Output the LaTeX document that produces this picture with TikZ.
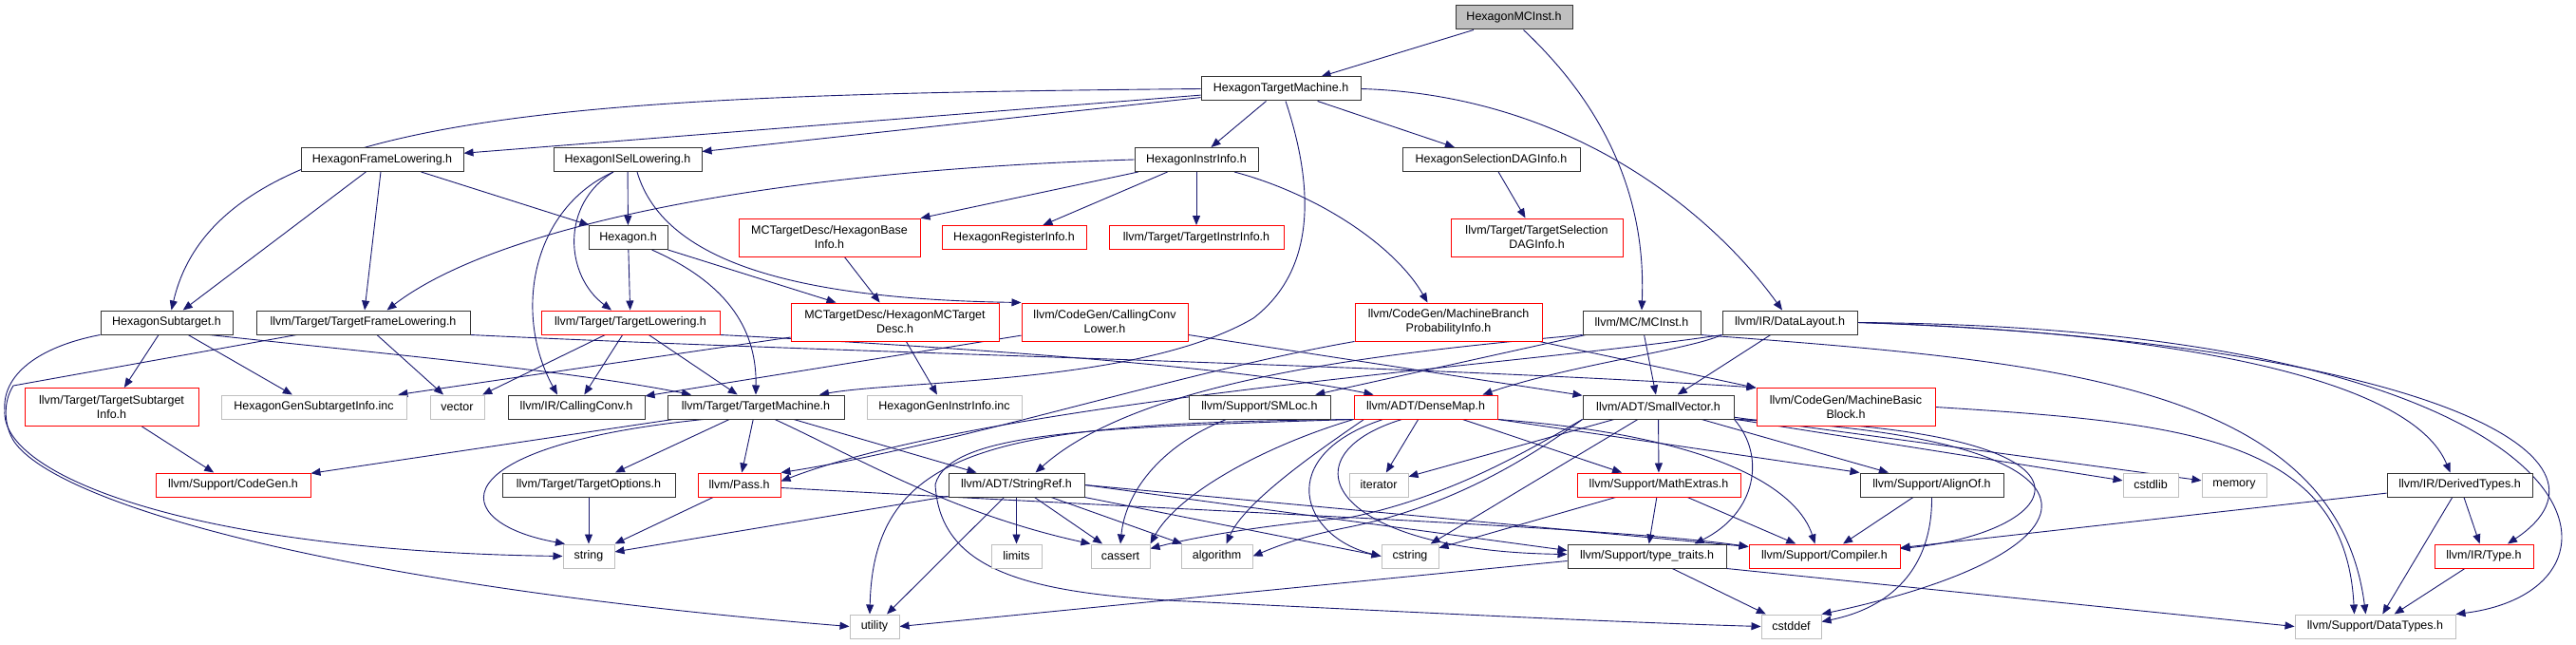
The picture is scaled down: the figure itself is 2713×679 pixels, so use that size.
\documentclass[tikz,border=0pt]{standalone}
\usepackage{fontspec}
\setmainfont{Liberation Sans}
\usetikzlibrary{arrows.meta,backgrounds}
\definecolor{edgeblue}{HTML}{191970}
\definecolor{extgray}{HTML}{BFBFBF}

\tikzset{
  hdr/.style={draw=black!80, fill=white, line width=1pt, minimum height=25pt,
    inner sep=1pt, align=center, font=\fontsize{12.5}{15}\selectfont},
  hdrtrunc/.style={hdr, draw=red},
  hdrext/.style={hdr, draw=extgray},
  hdrroot/.style={hdr, fill=extgray},
  twoline/.style={minimum height=40pt},
  incl/.style={-{Triangle[length=10pt,width=8pt]}, draw=edgeblue, line width=0.9pt},
}

\begin{document}
\begin{tikzpicture}[x=1pt, y=-1pt, line cap=round]
  \useasboundingbox (0,0) rectangle (2713,679);

  % rank 0 and 1
  \node[hdrroot, minimum width=123] (root) at (1594.5,18.5) {HexagonMCInst.h};
  \node[hdr, minimum width=168] (tm) at (1349,93.5) {HexagonTargetMachine.h};
  % rank 2
  \node[hdr, minimum width=171] (hfl) at (402.5,168) {HexagonFrameLowering.h};
  \node[hdr, minimum width=156] (hisel) at (661,168) {HexagonISelLowering.h};
  \node[hdr, minimum width=130] (hii) at (1260,168) {HexagonInstrInfo.h};
  \node[hdr, minimum width=187] (hsdag) at (1570.5,168) {HexagonSelectionDAGInfo.h};
  % rank 3
  \node[hdr, minimum width=83] (hex) at (661.5,250) {Hexagon.h};
  \node[hdrtrunc, twoline, minimum width=191] (hbase) at (873.5,250) {MCTargetDesc/HexagonBase\\Info.h};
  \node[hdrtrunc, minimum width=152] (hreg) at (1068,250) {HexagonRegisterInfo.h};
  \node[hdrtrunc, minimum width=184] (tii) at (1260,250) {llvm/Target/TargetInstrInfo.h};
  \node[hdrtrunc, twoline, minimum width=181] (tsdag) at (1618.5,250) {llvm/Target/TargetSelection\\DAGInfo.h};
  % rank 4
  \node[hdr, minimum width=139] (hsub) at (175.5,339.5) {HexagonSubtarget.h};
  \node[hdr, minimum width=225] (tfl) at (382.5,339.5) {llvm/Target/TargetFrameLowering.h};
  \node[hdrtrunc, minimum width=188] (tl) at (664,339.5) {llvm/Target/TargetLowering.h};
  \node[hdrtrunc, twoline, minimum width=219] (mcdesc) at (942.5,339) {MCTargetDesc/HexagonMCTarget\\Desc.h};
  \node[hdrtrunc, twoline, minimum width=175] (ccl) at (1163.5,339) {llvm/CodeGen/CallingConv\\Lower.h};
  \node[hdrtrunc, twoline, minimum width=197] (mbpi) at (1525.5,339) {llvm/CodeGen/MachineBranch\\ProbabilityInfo.h};
  \node[hdr, minimum width=124] (mcinst) at (1729,339.5) {llvm/MC/MCInst.h};
  \node[hdr, minimum width=142] (dl) at (1885,339.5) {llvm/IR/DataLayout.h};
  % rank 5
  \node[hdrtrunc, twoline, minimum width=183] (tsub) at (117.5,428.5) {llvm/Target/TargetSubtarget\\Info.h};
  \node[hdrext, minimum width=195] (gensub) at (330.5,428.5) {HexagonGenSubtargetInfo.inc};
  \node[hdrext, minimum width=57] (vector) at (481.5,428.5) {vector};
  \node[hdr, minimum width=144] (cc) at (607,428.5) {llvm/IR/CallingConv.h};
  \node[hdr, minimum width=186] (tmach) at (796,428.5) {llvm/Target/TargetMachine.h};
  \node[hdrext, minimum width=163] (geninstr) at (994.5,428.5) {HexagonGenInstrInfo.inc};
  \node[hdr, minimum width=149] (smloc) at (1326.5,428.5) {llvm/Support/SMLoc.h};
  \node[hdrtrunc, minimum width=151] (dmap) at (1501.5,428.5) {llvm/ADT/DenseMap.h};
  \node[hdr, minimum width=159] (svec) at (1746.5,428.5) {llvm/ADT/SmallVector.h};
  \node[hdrtrunc, twoline, minimum width=188] (mbb) at (1944,428.5) {llvm/CodeGen/MachineBasic\\Block.h};
  % rank 6
  \node[hdrtrunc, minimum width=163] (cgen) at (245.5,510.5) {llvm/Support/CodeGen.h};
  \node[hdr, minimum width=182] (topt) at (620,510.5) {llvm/Target/TargetOptions.h};
  \node[hdrtrunc, minimum width=87] (pass) at (778.5,510.5) {llvm/Pass.h};
  \node[hdr, minimum width=143] (sref) at (1070.5,510.5) {llvm/ADT/StringRef.h};
  \node[hdrext, minimum width=62] (iter) at (1452,510.5) {iterator};
  \node[hdrtrunc, minimum width=172] (mext) at (1747,510.5) {llvm/Support/MathExtras.h};
  \node[hdr, minimum width=151] (align) at (2034.5,510.5) {llvm/Support/AlignOf.h};
  \node[hdrext, minimum width=58] (cstdlib) at (2265,510.5) {cstdlib};
  \node[hdrext, minimum width=68] (memory) at (2353,510.5) {memory};
  \node[hdr, minimum width=153] (dtypes) at (2590.5,510.5) {llvm/IR/DerivedTypes.h};
  % rank 7
  \node[hdrext, minimum width=54] (string) at (620,585.5) {string};
  \node[hdrext, minimum width=53] (limits) at (1070.5,585.5) {limits};
  \node[hdrext, minimum width=62] (cassert) at (1180,585.5) {cassert};
  \node[hdrext, minimum width=75] (algorithm) at (1281.5,585.5) {algorithm};
  \node[hdrext, minimum width=60] (cstring) at (1485,585.5) {cstring};
  \node[hdr, minimum width=167] (ttraits) at (1734.5,585.5) {llvm/Support/type\_traits.h};
  \node[hdrtrunc, minimum width=159] (compiler) at (1921.5,585.5) {llvm/Support/Compiler.h};
  \node[hdrtrunc, minimum width=104] (type) at (2616,585.5) {llvm/IR/Type.h};
  % rank 8
  \node[hdrext, minimum width=52] (utility) at (921,659.5) {utility};
  \node[hdrext, minimum width=63] (cstddef) at (1886.5,659.5) {cstddef};
  \node[hdrext, minimum width=169] (datatypes) at (2501.5,659.5) {llvm/Support/DataTypes.h};

  \begin{scope}[on background layer]
    \fill[white] (0,0) rectangle (2713,679);
    % straight connectors
    \foreach \a/\b in {root/tm, tm/hfl, tm/hisel, tm/hii, tm/hsdag, hfl/hsub, hfl/tfl, hfl/hex,
      hisel/hex, hii/hbase, hii/hreg, hii/tii, hsdag/tsdag, hex/tl, hbase/mcdesc, hsub/tsub,
      hsub/gensub, tfl/vector, tl/vector, tl/cc, tl/tmach, mcdesc/gensub, mcdesc/geninstr,
      ccl/cc, ccl/svec, mbpi/mbb, mcinst/svec, mcinst/smloc, dl/svec, tsub/cgen, tmach/cgen,
      tmach/topt, tmach/pass, topt/string, pass/string, sref/limits, sref/cassert,
      sref/algorithm, sref/utility, sref/string, dmap/iter, dmap/mext, svec/iter, svec/mext,
      svec/align, svec/cstdlib, svec/memory, svec/cstring, mext/ttraits, mext/cstring,
      mext/compiler, align/compiler, ttraits/cstddef, dtypes/type, dtypes/datatypes,
      dtypes/compiler, type/datatypes}
      \draw[incl] (\a) -- (\b);

    % curved connectors
    \draw[incl] ([xshift=10pt]root.south) .. controls (1720,140) and (1732,250) .. (mcinst.north);
    \draw[incl] (tm.west) .. controls (600,100) and (230,115) .. ([xshift=5pt]hsub.north);
    \draw[incl] (tm.east) .. controls (1650,100) and (1800,220) .. ([xshift=-8pt]dl.north);
    \draw[incl] ([xshift=5pt]tm.south) .. controls (1385,200) and (1385,285) .. (1320,335)
      .. controls (1200,405) and (950,400) .. ([xshift=67pt]tmach.north);
    \draw[incl] ([xshift=-15pt]hisel.south) .. controls (590,215) and (595,290) .. ([xshift=-20pt]tl.north);
    \draw[incl] ([xshift=-15pt]hisel.south) .. controls (560,220) and (540,330) .. ([xshift=-20pt]cc.north);
    \draw[incl] ([xshift=10pt]hisel.south) .. controls (700,280) and (850,315) .. (ccl.north west);
    \draw[incl] (hii.west) .. controls (800,180) and (520,240) .. ([xshift=25pt]tfl.north);
    \draw[incl] ([xshift=40pt]hii.south) .. controls (1390,205) and (1470,260) .. ([xshift=-22pt]mbpi.north);
    \draw[incl] (hex.south east) -- ([xshift=-62pt]mcdesc.north);
    \draw[incl] ([xshift=25pt]hex.south) .. controls (770,300) and (797,350) .. (tmach.north);
    \draw[incl] ([xshift=45pt]hsub.south) .. controls (400,372) and (600,390) .. ([xshift=-68pt]tmach.north);
    \draw[incl] (hsub.south west) .. controls (40,365) and (2,395) .. (5,432)
      .. controls (0,500) and (200,580) .. (string.west);
    \draw[incl] ([xshift=-70pt]tfl.south) -- (14,406) .. controls (2,425) and (5,450) .. (15,465)
      .. controls (60,530) and (350,615) .. (utility.west);
    \draw[incl] (tfl.south east) .. controls (900,372) and (1500,385) .. (mbb.north west);
    \draw[incl] (tl.south east) .. controls (1000,365) and (1300,385) .. ([xshift=-55pt]dmap.north);
    \draw[incl] (mbpi.south west) .. controls (1250,390) and (1000,470) .. (pass.north east);
    \draw[incl] (mcinst.south west) .. controls (1450,372) and (1200,400) .. ([xshift=20pt]sref.north);
    \draw[incl] (mcinst.south east) .. controls (2150,380) and (2460,400) .. ([xshift=-10pt]datatypes.north);
    \draw[incl] ([xshift=-35pt]smloc.south) .. controls (1220,470) and (1185,520) .. (cassert.north);
    \draw[incl] (dl.south west) .. controls (1780,368) and (1650,385) .. ([xshift=60pt]dmap.north);
    \draw[incl] (dl.south west) .. controls (1600,385) and (1050,420) .. ([yshift=4pt]pass.east);
    \draw[incl] (dl.east) .. controls (2300,350) and (2540,400) .. ([xshift=-10pt]dtypes.north);
    \draw[incl] (dl.east) .. controls (2550,360) and (2780,480) .. ([xshift=25pt]type.north);
    \draw[incl] (dl.east) .. controls (2750,345) and (2800,620) .. (datatypes.north east);
    \draw[incl] (mbb.east) .. controls (2300,445) and (2470,460) .. ([xshift=-22pt]datatypes.north);
    \draw[incl] ([xshift=-55pt]tmach.south) .. controls (460,470) and (470,550) .. ([xshift=-25pt]string.north);
    \draw[incl] ([xshift=40pt]tmach.south) -- ([xshift=-42pt]sref.north);
    \draw[incl] ([xshift=20pt]tmach.south) .. controls (900,480) and (1000,540) .. (cassert.north west);
    \draw[incl] ([yshift=-3pt]pass.east) .. controls (1300,540) and (1700,555) .. ([yshift=10pt]compiler.west);
    \draw[incl] (sref.east) -- ([yshift=10pt]compiler.west);
    \draw[incl] (sref.east) -- ([yshift=6pt]ttraits.west);
    \draw[incl] (sref.south east) -- (cstring.west);
    \draw[incl] ([xshift=-45pt]dmap.south) .. controls (1340,480) and (1370,565) .. (cstring.west);
    \draw[incl] ([xshift=-25pt]dmap.south) .. controls (1350,480) and (1400,580) .. ([yshift=2pt]ttraits.west);
    \draw[incl] (dmap.south east) .. controls (1820,460) and (1895,520) .. ([xshift=-10pt]compiler.north);
    \draw[incl] (dmap.south east) -- (align.north west);
    \draw[incl] (dmap.south west) .. controls (1050,445) and (920,470) .. ([xshift=-5pt]utility.north);
    \draw[incl] (dmap.south west) .. controls (1330,470) and (1240,520) .. (cassert.north east);
    \draw[incl] ([xshift=-65pt]dmap.south) .. controls (1380,480) and (1310,530) .. ([xshift=10pt]algorithm.north);
    \draw[incl] (dmap.south west) .. controls (1150,450) and (1000,455) .. (985,510)
      .. controls (990,600) and (1080,625) .. (1250,633)
      .. controls (1500,645) and (1700,655) .. (cstddef.west);
    \draw[incl] (svec.south east) .. controls (2250,450) and (2180,560) .. ([yshift=8pt]compiler.east);
    \draw[incl] (svec.south east) .. controls (2250,460) and (2230,580) .. (cstddef.north east);
    \draw[incl] (svec.south east) .. controls (1860,480) and (1850,540) .. ([xshift=50pt]ttraits.north);
    \draw[incl] (svec.south west) .. controls (1600,480) and (1520,525) .. (1420,545)
      .. controls (1330,553) and (1260,565) .. ([yshift=8pt]cassert.east);
    \draw[incl] (svec.south west) .. controls (1600,490) and (1520,535) .. (1420,555)
      .. controls (1370,565) and (1345,575) .. (algorithm.east);
    \draw[incl] (align.south) .. controls (2035,600) and (1990,640) .. ([yshift=5pt]cstddef.east);
    \draw[incl] ([yshift=-5pt]ttraits.west) -- (utility.east);
    \draw[incl] (ttraits.south east) -- (datatypes.west);
  \end{scope}
\end{tikzpicture}
\end{document}
